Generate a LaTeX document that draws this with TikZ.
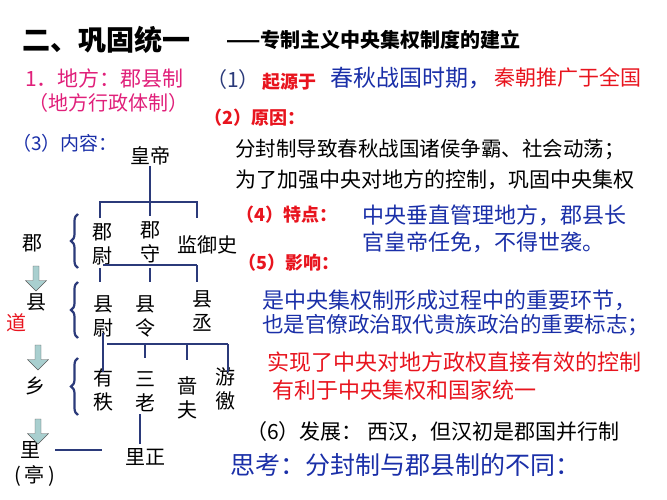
\documentclass[tikz,border=0pt]{standalone}
\usepackage{fontspec}
\setmainfont{Noto Sans CJK SC}
\usetikzlibrary{decorations.pathreplacing,shapes.arrows}
\definecolor{navy}{HTML}{2B3A7A}
\definecolor{tblue}{HTML}{1A2FA8}
\definecolor{tred}{HTML}{E8141E}
\definecolor{mag}{HTML}{E0207A}
\definecolor{arrfill}{HTML}{A9CFCF}
\tikzset{
  t/.style={inner sep=0pt,anchor=west,font=\fontsize{#1}{#1}\selectfont},
  t/.default=21,
  tb/.style={inner sep=0pt,anchor=west,font=\fontsize{#1}{#1}\selectfont\bfseries},
  tn/.style={inner sep=0pt,align=center,font=\fontsize{20}{24}\selectfont},
  ln/.style={draw=navy,line width=2.4pt},
  br/.style={draw=navy,line width=2.2pt,decorate,decoration={brace,amplitude=7pt}},
  darr/.style={single arrow,draw=gray!70!black,fill=arrfill,shape border rotate=270,minimum height=25pt,minimum width=21pt,single arrow head extend=3pt,inner sep=1pt}
}
\begin{document}
\begin{tikzpicture}[x=1pt,y=-1pt]
\useasboundingbox (0,0) rectangle (667,500);
% title
\node[tb=28] (title) at (22,40) {二、巩固统一};
\node[tb=20] (sub) at (226,40) {——专制主义中央集权制度的建立};
\node[t=21,text=mag] (d1) at (25,78) {1．地方：郡县制};
\node[t=20,text=mag] (d2) at (28,103) {（地方行政体制）};
% right column
\node[t=21,text=navy] (p1) at (206,80) {（1）};
\node[tb=18,text=tred] (p1a) at (262,82) {起源于};
\node[t=23,text=tblue] (p1b) at (330,78) {春秋战国时期，};
\node[t=21,text=tred] (p1c) at (494,78) {秦朝推广于全国};
\node[tb=18,text=tred] (p2) at (204,118) {（2）原因：};
\node[t=19,text=tblue] (p3) at (12,143) {（3）内容：};
\node[t=20.5] (r1) at (235,150) {分封制导致春秋战国诸侯争霸、社会动荡；};
\node[t=21] (r2) at (235,180) {为了加强中央对地方的控制，巩固中央集权};
\node[tb=18,text=tred] (p4) at (236,215) {（4）特点：};
\node[t=22,text=tblue] (c1) at (362,215) {中央垂直管理地方，郡县长};
\node[t=22,text=tblue] (c2) at (362,242) {官皇帝任免，不得世袭。};
\node[tb=18,text=tred] (p5) at (238,263) {（5）影响：};
\node[t=22,text=tblue] (e1) at (262,300) {是中央集权制形成过程中的重要环节，};
\node[t=21.5,text=tblue] (e2) at (262,325) {也是官僚政治取代贵族政治的重要标志；};
\node[t=22,text=tred] (e3) at (267,362) {实现了中央对地方政权直接有效的控制};
\node[t=22,text=tred] (e4) at (272,390) {有利于中央集权和国家统一};
\node[t=21] (p6) at (246,432) {（6）发展：\ 西汉，但汉初是郡国并行制};
\node[t=25,text=tblue] (think) at (230,465) {思考：分封制与郡县制的不同：};
% tree
\node[tn] (hd) at (150,156) {皇帝};
\node[tn] (jw) at (102,244) {郡\\尉};
\node[tn] (js) at (150,242) {郡\\守};
\node[tn] (jy) at (207,245) {监御史};
\node[tn] (xw) at (103,316) {县\\尉};
\node[tn] (xl) at (145,316) {县\\令};
\node[tn] (xc) at (202,311) {县\\丞};
\node[tn] (yz) at (103,390) {有\\秩};
\node[tn] (sl) at (145,392) {三\\老};
\node[tn] (sf) at (187,398) {啬\\夫};
\node[tn] (yj) at (225,389) {游\\徼};
\node[tn] (lz) at (145,457) {里正};
% tree lines
\draw[ln] (150,166) -- (150,202);
\draw[ln] (100,218) -- (100,202) -- (197,202) -- (197,218);
\draw[ln] (150,202) -- (150,216);
\draw[ln] (103,265) -- (197,265);
\draw[ln] (100,268) -- (100,282) (150,268) -- (150,282) (197,265) -- (197,282);
\draw[ln] (107,344) -- (228,344);
\draw[ln] (103,333) -- (103,372) (145,344) -- (145,358) (187,344) -- (187,360) (228,344) -- (228,372);
\draw[ln] (140,414) -- (140,444);
\draw[ln] (55,450) -- (102,450);
% left column
\node[tn] (jun) at (33,243) {郡};
\node[tn] (xian) at (37,302) {县};
\node[tn,text=tred] (dao) at (16,323) {道};
\node[tn] (xiang) at (35,386) {乡};
\node[tn] (li) at (30,450) {里};
\node[tn] (ting) at (35,476) {(\,亭\,)};
\node[darr] (a1) at (36,277) {};
\node[darr] (a2) at (38,356) {};
\node[darr] (a3) at (38,430) {};
\draw[br] (78,268) -- (78,214);
\draw[br] (78,338) -- (78,282);
\draw[br] (78,415) -- (78,358);
\end{tikzpicture}
\end{document}
